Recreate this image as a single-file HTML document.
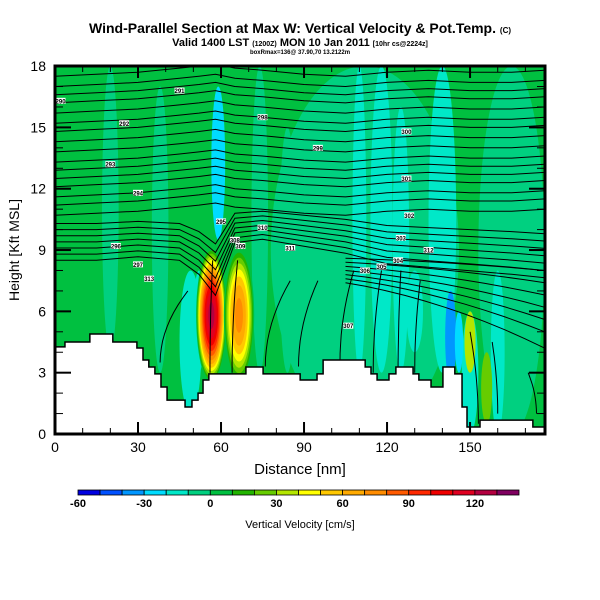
<!DOCTYPE html>
<html><head><meta charset="utf-8">
<style>
html,body{margin:0;padding:0;background:#fff;}
svg{display:block;font-family:"Liberation Sans",sans-serif;}
</style></head>
<body>
<svg id="chart" width="600" height="600" viewBox="0 0 600 600" xmlns="http://www.w3.org/2000/svg">
  <defs><clipPath id="plotclip"><rect x="55" y="66" width="490" height="368"/></clipPath></defs>
  <text x="300" y="33" text-anchor="middle" font-size="14" font-weight="bold">Wind-Parallel Section at Max W: Vertical Velocity &amp; Pot.Temp. <tspan font-size="8">(C)</tspan></text>
  <text x="300" y="46" text-anchor="middle" font-size="11" font-weight="bold">Valid 1400 LST <tspan font-size="7">(1200Z)</tspan> MON 10 Jan 2011 <tspan font-size="7">[10hr cs@2224z]</tspan></text>
  <text x="300" y="54" text-anchor="middle" font-size="6" font-weight="bold">boxRmax=136@ 37.90,70 13.2122m</text>
  <g id="field" clip-path="url(#plotclip)"></g>
  <g id="axes"></g>
  <g id="cbar"></g>
  <text x="19" y="250" text-anchor="middle" font-size="14" transform="rotate(-90 19 250)">Height [Kft MSL]</text>
  <text x="300" y="474" text-anchor="middle" font-size="15">Distance [nm]</text>
  <text x="300" y="528" text-anchor="middle" font-size="11">Vertical Velocity [cm/s]</text>
</svg>
<script>
// ---- data ----
const xTicks = [0,30,60,90,120,150];
const yTicks = [0,3,6,9,12,15,18];
const cbarLevels = [-60,-50,-40,-30,-20,-10,0,10,20,30,40,50,60,70,80,90,100,110,120,130];
const cbarLabels = [-60,-30,0,30,60,90,120];
const cbarColors = ["#0000e0","#0050ff","#0096ff","#00dcff","#00e8c8","#00d080","#00c040","#22b400","#66cc00","#b4e600","#ffff00","#ffc800","#ffaa00","#ff8c00","#ff5a00","#ff2800","#f00000","#e00020","#b40040","#800060"];
const terrX = [0,3.6,12.6,20.9,29.6,31.8,33.9,36.1,38.3,40.5,47,49.5,51.7,53.5,55.6,69,75.2,88.6,94.7,96.9,112.1,114.2,116.4,120.7,123.2,129.4,131.5,135.9,140.2,144.5,147.1,148.9,153.6,172.7,177.1];
const terrH = [4.26,4.5,4.89,4.5,4.21,3.62,3.28,2.94,2.3,1.66,1.32,1.66,2.0,2.64,2.94,3.28,2.94,2.64,2.94,3.62,3.28,2.94,2.64,2.94,3.28,2.94,2.64,2.3,3.28,2.94,1.32,0.34,0.68,0.34];
// vertical velocity bands (center nm, half width nm, bottom kft, top kft, w cm/s)
const bandX = [112,165,  20,38,49,74,84,100,  118,140,110,125,150,160,59,52,143,146,150,156,130];
const bandHW= [34,12,    3,3,4,3,3,3,          4,5,2.5,3,3,2.5,2.5,2,2,1.5,2,2,3];
const bandH0= [0,0,      4,3,1,3,3,3,          3,3,3,3,0,0,9.5,3,2.5,3,3,0.5,4];
const bandH1= [18,18,    18,17,8,18,15,12,     18,18,18,16,6,8,17,8,7,6,6,4,8];
const bandW = [-10,-10,  -10,-10,-20,-10,-10,-10, -20,-20,-20,-20,-20,-20,-30,-20,-40,-30,30,20,-20];
// updraft cores
const upX = [56.5,66.5];
const upH = [5.8,5.8];
const upPeak = [125,75];
const upSX = [5.5,5.5];
const upSY = [3.3,3.3];
// potential temperature contours
const cx = [0,15,30,45,52,58,65,75,90,105,120,135,150,165,177];
const upperBase = [17.5,17.0,16.6,16.2,15.7,15.2,14.8,14.3,13.8,13.3,12.9,12.5,12.1,11.6,11.2,10.7];
const upperOff = [0,0.1,0.2,0.4,0.5,0.6,0.4,0.3,0.1,0,0.2,0.3,0.2,0.2,0.3];
const midBase = [10.3,10.0,9.7,9.4,9.1,8.8,8.5];
const midOff = [0,0,0.1,0,-0.4,-1.0,0.5,0.6,0.4,0.2,-0.1,-0.2,-0.3,-0.4,-0.5];
const lowStart = [8.6,8.4,8.2,8.0,7.8,7.6,7.4];
const lowEnd = [8.0,7.4,6.8,6.2,5.6,5.0,4.2];
const vertX0 = [38,56,64,76,88,103,115,124,130,153,160,174];
const vertX1 = [48,57,66,85,95,108,118,125,132,150,158,171];
const vertH0 = [3.5,3,3,3.3,3.3,3.5,3,3,3,0.5,1,1];
const vertH1 = [7,8.5,8.5,7.5,7.5,8,8,8,7.5,5,4.5,3];
const labX = [2,45,25,20,30,60,22,30,75,95,127,127,128,125,124,118,112,106,65,67,75,85,135,34];
const labH = [16.3,16.8,15.2,13.2,11.8,10.4,9.2,8.3,15.5,14.0,14.8,12.5,10.7,9.6,8.5,8.2,8.0,5.3,9.5,9.2,10.1,9.1,9.0,7.6];
// ---- scales ----
const X = v => 55 + v*2.767;
const Y = h => 434 - h*20.44;
const NS="http://www.w3.org/2000/svg";
function mk(tag, parent){const e=document.createElementNS(NS,tag);parent.appendChild(e);return e;}
function col(w){let i=Math.floor((w+60)/10);i=Math.max(0,Math.min(19,i));return cbarColors[i];}
const field=document.getElementById('field');
const bg=mk('rect',field);


bg.setAttribute('x',55);bg.setAttribute('y',66);bg.setAttribute('width',490);bg.setAttribute('height',368);bg.setAttribute('fill',col(0));
for(let i=0;i<bandX.length;i++){
  const e=mk('ellipse',field);
  
  
  e.setAttribute('cx',X(bandX[i]));e.setAttribute('cy',(Y(bandH0[i])+Y(bandH1[i]))/2);
  e.setAttribute('rx',bandHW[i]*2.767);e.setAttribute('ry',Math.abs(Y(bandH0[i])-Y(bandH1[i]))/2);
  e.setAttribute('fill',col(bandW[i]));
}
for(let i=0;i<upX.length;i++){
  for(let lv=0; lv<upPeak[i]; lv+=10){
    const f=Math.sqrt(Math.max(0.02,1-lv/upPeak[i]));
    const e=mk('ellipse',field);
    
    
    e.setAttribute('cx',X(upX[i]));e.setAttribute('cy',Y(upH[i]));
    e.setAttribute('rx',upSX[i]*2.767*f);e.setAttribute('ry',upSY[i]*20.44*f);
    e.setAttribute('fill',col(lv+5));
  }
}
function line(pts,name){
  const p=mk('path',field);
  
  
  p.setAttribute('d','M'+pts.map(q=>q[0].toFixed(1)+','+q[1].toFixed(1)).join('L'));
  p.setAttribute('fill','none');p.setAttribute('stroke','#000');p.setAttribute('stroke-width','1');
}
upperBase.forEach(b=>line(cx.map((x,j)=>[X(x),Y(b+upperOff[j])]),'theta-contour'));
midBase.forEach((b,k)=>line(cx.map((x,j)=>[X(x),Y(b+midOff[j]*(1+k*0.12))]),'theta-contour'));
lowStart.forEach((s,k)=>{const pts=[];for(let t=0;t<=10;t++){const x=105+t*7.2;const h=s+(lowEnd[k]-s)*(t/10)*(t/10*0.5+0.5);pts.push([X(x),Y(h)]);}line(pts,'theta-contour');});
vertX0.forEach((x0,k)=>{const pts=[];for(let t=0;t<=10;t++){const u=t/10;const x=x0+(vertX1[k]-x0)*u*u;const h=vertH0[k]+(vertH1[k]-vertH0[k])*u;pts.push([X(x),Y(h)]);}line(pts,'theta-contour-vertical');});
labX.forEach((x,k)=>{
  const r=mk('rect',field);
  
  
  r.setAttribute('x',X(x)-5);r.setAttribute('y',Y(labH[k])-3);r.setAttribute('width',10);r.setAttribute('height',6);r.setAttribute('fill','#fff');
  const t=mk('text',field);
  
  
  t.setAttribute('x',X(x));t.setAttribute('y',Y(labH[k])+2.5);t.setAttribute('font-size','6');t.setAttribute('font-weight','bold');t.setAttribute('text-anchor','middle');
  t.textContent=String(290+k);
});
let d='M'+X(terrX[0])+','+Y(0)+' ';
for(let i=0;i<terrH.length;i++){d+='L'+X(terrX[i])+','+Y(terrH[i])+' L'+X(terrX[i+1])+','+Y(terrH[i])+' ';}
d+='L'+X(terrX[terrX.length-1])+','+Y(0)+'Z';
const tr=mk('path',field);


tr.setAttribute('d',d);tr.setAttribute('fill','#fff');tr.setAttribute('stroke','#000');tr.setAttribute('stroke-width','1.5');
const ax=document.getElementById('axes');
const fr=mk('rect',ax);


fr.setAttribute('x',55);fr.setAttribute('y',66);fr.setAttribute('width',490);fr.setAttribute('height',368);fr.setAttribute('fill','none');fr.setAttribute('stroke','#000');fr.setAttribute('stroke-width','3');
function tk(x1,y1,x2,y2,w){const l=mk('line',ax);l.setAttribute('x1',x1);l.setAttribute('y1',y1);l.setAttribute('x2',x2);l.setAttribute('y2',y2);l.setAttribute('stroke','#000');l.setAttribute('stroke-width',w);}
for(let v=0;v<=170;v+=10){const maj=v%30===0;const L=maj?12:6;tk(X(v),434,X(v),434-L,maj?2:1);tk(X(v),66,X(v),66+L,maj?2:1);}
for(let h=0;h<=18;h++){const maj=h%3===0;const L=maj?16:8;tk(55,Y(h),55+L,Y(h),maj?2:1);tk(545,Y(h),545-L,Y(h),maj?2:1);}
xTicks.forEach(v=>{const t=mk('text',ax);t.setAttribute('x',X(v));t.setAttribute('y',452);t.setAttribute('text-anchor','middle');t.setAttribute('font-size','14');t.textContent=v;});
yTicks.forEach(v=>{const t=mk('text',ax);t.setAttribute('x',46);t.setAttribute('y',Y(v)+5);t.setAttribute('text-anchor','end');t.setAttribute('font-size','14');t.textContent=v;});
const cb=document.getElementById('cbar');
const cbX0=78, cbW=22.05;
cbarLevels.forEach((lv,i)=>{const r=mk('rect',cb);r.setAttribute('x',cbX0+i*cbW);r.setAttribute('y',490);r.setAttribute('width',cbW);r.setAttribute('height',5);r.setAttribute('fill',cbarColors[i]);r.setAttribute('stroke','#000');r.setAttribute('stroke-width','0.8');});
cbarLabels.forEach(v=>{const t=mk('text',cb);t.setAttribute('x',cbX0+(v+60)/10*cbW);t.setAttribute('y',507);t.setAttribute('text-anchor','middle');t.setAttribute('font-size','11');t.setAttribute('font-weight','bold');t.textContent=v;});
</script>
</body></html>
